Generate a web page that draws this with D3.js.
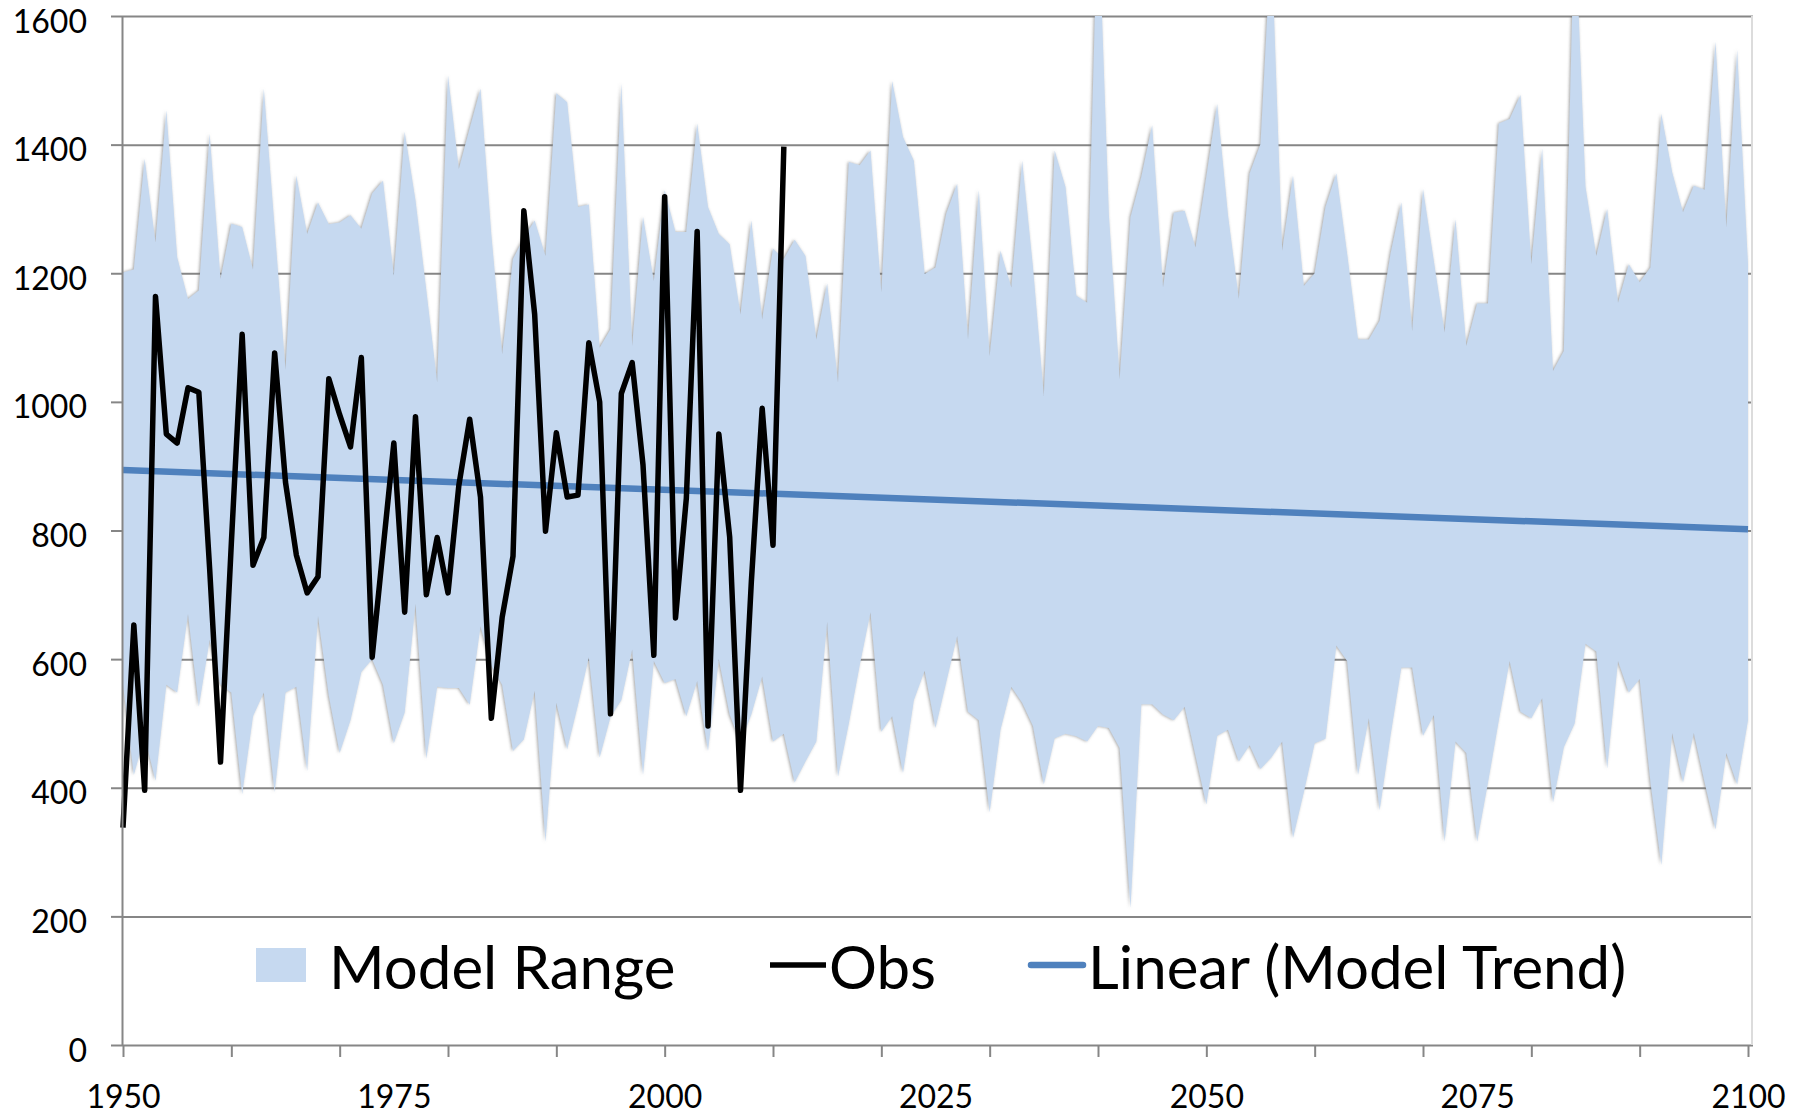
<!DOCTYPE html>
<html>
<head>
<meta charset="utf-8">
<script src="https://cdn.jsdelivr.net/npm/d3@7"></script>
<style>
  body { margin: 0; background: #fff; }
  svg { display: block; font-family: Lato, "Open Sans", sans-serif; }
</style>
</head>
<body>
<svg id="chart" width="1802" height="1114"></svg>
<script>
// yearly values, 1950 .. 2100
const firstYear = 1950;

const modelUpper = [
    1201, 1206, 1378, 1248, 1453, 1225, 1160, 1173, 1417, 1191, 1277, 1272, 1206, 1487, 1270, 1050, 1352, 1261, 1310, 1276, 1279, 1290, 1269, 1324, 1344,
    1196, 1420, 1313, 1173, 1030, 1508, 1362, 1425, 1487, 1260, 1074, 1222, 1255, 1282, 1227, 1480, 1466, 1303, 1307, 1084, 1113, 1495, 1087, 1288, 1188,
    1329, 1264, 1264, 1433, 1303, 1261, 1245, 1136, 1282, 1128, 1238, 1222, 1252, 1227, 1097, 1184, 1030, 1373, 1368, 1391, 1170, 1499, 1412, 1375, 1199,
    1209, 1293, 1339, 1097, 1329, 1071, 1235, 1178, 1375, 1209, 1009, 1391, 1334, 1165, 1154, 1780, 1292, 1035, 1287, 1350, 1430, 1178, 1294, 1297, 1240,
    1350, 1463, 1290, 1160, 1355, 1401, 1720, 1235, 1352, 1180, 1200, 1303, 1355, 1230, 1097, 1097, 1126, 1230, 1310, 1110, 1331, 1219, 1108, 1284, 1087,
    1153, 1153, 1433, 1440, 1477, 1214, 1394, 1048, 1079, 1760, 1334, 1227, 1300, 1154, 1214, 1186, 1209, 1448, 1357, 1295, 1336, 1330, 1560, 1271, 1547, 1214
];

const modelLower = [
    560, 420, 480, 411, 560, 548, 670, 526, 630, 560, 548, 390, 511, 548, 393, 548, 557, 426, 667, 543, 454, 505, 580, 600, 560,
    469, 517, 686, 445, 557, 555, 555, 529, 651, 590, 560, 457, 475, 551, 316, 532, 460, 529, 603, 447, 510, 536, 615, 420, 597,
    563, 569, 511, 566, 457, 600, 514, 470, 514, 573, 472, 484, 408, 441, 472, 658, 417, 500, 590, 673, 487, 511, 423, 536, 582,
    493, 565, 636, 518, 505, 362, 490, 557, 532, 496, 405, 477, 484, 480, 472, 496, 493, 462, 213, 530, 530, 514, 505, 526, 450,
    374, 481, 490, 441, 466, 429, 447, 472, 322, 393, 469, 476, 621, 597, 420, 508, 365, 481, 587, 587, 481, 513, 316, 472, 454,
    316, 408, 505, 597, 518, 508, 539, 377, 463, 500, 624, 612, 430, 597, 548, 569, 408, 280, 485, 408, 485, 408, 335, 454, 405, 505
];

// observations 1950 .. 2011
const obsValues = [
    338, 653, 396, 1164, 950, 936, 1022, 1015, 740, 440,
    780, 1105, 746, 789, 1076, 875, 762, 703, 728, 1036,
    980, 930, 1069, 603, 770, 936, 673, 977, 700, 789,
    703, 870, 973, 852, 508, 665, 760, 1297, 1136, 799,
    952, 852, 855, 1092, 1000, 515, 1013, 1061, 902, 606,
    1319, 664, 850, 1265, 496, 950, 790, 396, 720, 990,
    777, 1397
];

const trendYears = [1950, 2100];
const trendValues = [894, 802];

const yTicks = [0, 200, 400, 600, 800, 1000, 1200, 1400, 1600];
const xTickYears = d3.range(1950, 2101, 10);
const xLabelYears = [1950, 1975, 2000, 2025, 2050, 2075, 2100];

function drawChart() {
    const svg = d3.select('#chart');
    const plot = {left: 122, right: 1753, top: 16, bottom: 1045};

    const x = d3.scaleLinear()
        .domain([1950, 2100])
        .range([123, 1748]);

    const y = d3.scaleLinear()
        .domain([0, 1600])
        .range([plot.bottom, plot.top]);

    const band = modelUpper.map((u, i) => ({year: firstYear + i, hi: u, lo: modelLower[i]}));
    const obs = obsValues.map((v, i) => ({year: firstYear + i, value: v}));
    const trend = trendYears.map((yr, i) => ({year: yr, value: trendValues[i]}));

    const defs = svg.append('defs');
    defs.append('clipPath').attr('id', 'plotClip')
        .append('rect')
        .attr('x', plot.left).attr('y', plot.top)
        .attr('width', plot.right - plot.left).attr('height', plot.bottom - plot.top);

    // soft grey edge like the excel shadow
    const f = defs.append('filter').attr('id', 'edge')
        .attr('x', '-5%').attr('y', '-5%').attr('width', '110%').attr('height', '110%');
    f.append('feDropShadow')
        .attr('dx', -1).attr('dy', 0)
        .attr('stdDeviation', 1.8)
        .attr('flood-color', '#777')
        .attr('flood-opacity', 0.7);

    // gridlines
    const grid = svg.append('g')
        .attr('transform', `translate(${plot.left},0)`)
        .call(d3.axisLeft(y).tickValues(yTicks).tickSize(-(plot.right - plot.left)).tickFormat(''));
    grid.select('.domain').remove();
    grid.selectAll('line').attr('stroke', '#868686').attr('stroke-width', 2);

    // model range band
    const area = d3.area()
        .x(d => x(d.year))
        .y0(d => y(d.lo))
        .y1(d => y(d.hi));

    svg.append('g')
        .attr('clip-path', 'url(#plotClip)')
        .append('path')
        .datum(band)
        .attr('d', area)
        .attr('fill', '#c6d9f0')
        .attr('filter', 'url(#edge)');

    // right border of plot area
    svg.append('line')
        .attr('x1', plot.right - 1).attr('x2', plot.right - 1)
        .attr('y1', plot.top).attr('y2', plot.bottom)
        .attr('stroke', '#dcdcdc').attr('stroke-width', 2);

    // trend
    const line = d3.line()
        .x(d => x(d.year))
        .y(d => y(d.value));

    svg.append('path')
        .datum(trend)
        .attr('d', line)
        .attr('fill', 'none')
        .attr('stroke', '#4f81bd')
        .attr('stroke-width', 6.5);

    // observations
    svg.append('path')
        .datum(obs)
        .attr('d', line)
        .attr('fill', 'none')
        .attr('stroke', '#000')
        .attr('stroke-width', 5.5)
        .attr('stroke-linejoin', 'round');

    // y axis
    const yAxis = svg.append('g')
        .attr('transform', `translate(${plot.left},0)`)
        .call(d3.axisLeft(y).tickValues(yTicks).tickSize(11).tickPadding(24).tickSizeOuter(0).tickFormat(d3.format('d')));
    yAxis.select('.domain').attr('stroke', '#868686').attr('stroke-width', 2);
    yAxis.selectAll('line').attr('stroke', '#868686').attr('stroke-width', 2);
    yAxis.selectAll('text')
        .attr('font-size', 32)
        .attr('dy', '0.5em')
        .attr('font-family', 'Lato, "Open Sans", sans-serif')
        .attr('fill', '#000');

    // x axis ticks every 10 years
    const xTicks = svg.append('g')
        .attr('transform', `translate(0,${plot.bottom})`)
        .call(d3.axisBottom(x).tickValues(xTickYears).tickSize(12).tickFormat(''));
    xTicks.select('.domain').remove();
    xTicks.selectAll('line').attr('stroke', '#868686').attr('stroke-width', 2);

    // x labels every 25 years
    const xLabels = svg.append('g')
        .attr('transform', `translate(0,${plot.bottom})`)
        .call(d3.axisBottom(x).tickValues(xLabelYears).tickSize(0).tickPadding(40).tickFormat(d3.format('d')));
    xLabels.select('.domain').remove();
    xLabels.selectAll('text')
        .attr('font-size', 32)
        .attr('font-family', 'Lato, "Open Sans", sans-serif')
        .attr('fill', '#000');

    // legend
    const legend = svg.append('g').attr('font-size', 60).attr('fill', '#000');
    legend.append('rect')
        .attr('x', 256).attr('y', 948).attr('width', 50).attr('height', 34)
        .attr('fill', '#c6d9f0');
    legend.append('text').attr('x', 329).attr('y', 989).text('Model Range');

    legend.append('line')
        .attr('x1', 770).attr('x2', 826).attr('y1', 965).attr('y2', 965)
        .attr('stroke', '#000').attr('stroke-width', 5.5);
    legend.append('text').attr('x', 829).attr('y', 989).text('Obs');

    legend.append('line')
        .attr('x1', 1031).attr('x2', 1083).attr('y1', 965).attr('y2', 965)
        .attr('stroke', '#4f81bd').attr('stroke-width', 6.5).attr('stroke-linecap', 'round');
    legend.append('text').attr('x', 1088).attr('y', 989).text('Linear (Model Trend)');
}

drawChart();
</script>
</body>
</html>
